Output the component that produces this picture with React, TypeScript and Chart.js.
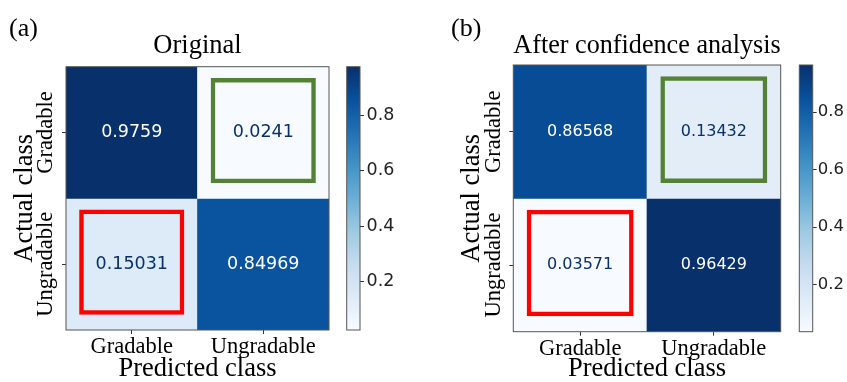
import React, { useEffect, useRef } from 'react';
import { Chart, registerables } from 'chart.js';

Chart.register(...registerables);

// ---------------- data ----------------
const predictedClasses = ['Gradable', 'Ungradable'];
const actualClasses = ['Gradable', 'Ungradable'];
const originalRowGradable = [0.9759, 0.0241];
const originalRowUngradable = [0.15031, 0.84969];
const afterRowGradable = [0.86568, 0.13432];
const afterRowUngradable = [0.03571, 0.96429];
const colorbarTicks = [0.2, 0.4, 0.6, 0.8];
const panelTags = ['(a)', '(b)'];
const panelTitles = ['Original', 'After confidence analysis'];
const xAxisTitle = 'Predicted class';
const yAxisTitle = 'Actual class';
const greenBoxCell = [0, 1]; // [row, col]
const redBoxCell = [1, 0]; // [row, col]

// ---------------- styles ----------------
const BLUES = ['#f7fbff', '#deebf7', '#c6dbef', '#9ecae1', '#6baed6', '#4292c6', '#2171b5', '#08519c', '#08306b'];
const SERIF = '"Liberation Serif", "Times New Roman", serif';
const SANS = '"DejaVu Sans", sans-serif';
const H = 382;
const BOX_TOP = 0.085;
const BOX_BOTTOM = 0.885;
const BOX_WIDTH = 0.8;
const GREEN = '#548235';
const RED = '#ff0000';
const FRAME = '#555555';
const TAG_PAD_TOP = 13.5;
const TAG_PAD_BOTTOM = -15;

const panelLayouts = [
  {
    canvasLeft: 0, canvasWidth: 340, tagX: 9,
    plotLeft: 66, plotRight: 329, plotTop: 66.7, plotBottom: 330,
    cellFont: 17.5,
    cbCanvasLeft: 336, cbCanvasWidth: 74, cbLeft: 346.7, cbRight: 360, cbFont: 17.5, cbPad: 2.5,
  },
  {
    canvasLeft: 420, canvasWidth: 380, tagX: 451,
    plotLeft: 513.3, plotRight: 780.7, plotTop: 65, plotBottom: 331.7,
    cellFont: 16,
    cbCanvasLeft: 790, cbCanvasWidth: 57, cbLeft: 799.3, cbRight: 812.7, cbFont: 16.5, cbPad: 1,
  },
];

function hexToRgb(h: string) {
  const n = parseInt(h.slice(1), 16);
  return [(n >> 16) & 255, (n >> 8) & 255, n & 255];
}
function blues(t: number) {
  const tt = Math.max(0, Math.min(1, t)) * (BLUES.length - 1);
  const i = Math.min(BLUES.length - 2, Math.floor(tt));
  const f = tt - i;
  const a = hexToRgb(BLUES[i]);
  const b = hexToRgb(BLUES[i + 1]);
  const c = a.map((v, k) => Math.round(v + (b[k] - v) * f));
  return `rgb(${c[0]},${c[1]},${c[2]})`;
}
function measure(text: string, font: string) {
  const c = document.createElement('canvas').getContext('2d')!;
  c.font = font;
  return c.measureText(text).width;
}

const framePlugin = {
  id: 'frame',
  afterDatasetsDraw(chart: any) {
    const a = chart.chartArea;
    const ctx = chart.ctx;
    ctx.save();
    ctx.strokeStyle = FRAME;
    ctx.lineWidth = 1;
    ctx.strokeRect(a.left, a.top, a.right - a.left, a.bottom - a.top);
    ctx.restore();
  },
};

const cellTextPlugin = {
  id: 'cellText',
  afterDatasetsDraw(chart: any) {
    const ctx = chart.ctx;
    chart.data.datasets.forEach((ds: any, di: number) => {
      if (!ds.cellValues) return;
      const meta = chart.getDatasetMeta(di);
      meta.data.forEach((el: any, i: number) => {
        const v = ds.cellValues[i];
        ctx.save();
        ctx.font = `${ds.cellFont}px ${SANS}`;
        ctx.textAlign = 'center';
        ctx.textBaseline = 'middle';
        ctx.fillStyle = v > ds.threshold ? '#ffffff' : '#08306b';
        ctx.fillText(String(v), el.x, (el.y + el.base) / 2);
        ctx.restore();
      });
    });
  },
};

function useChart(ref: any, build: () => any) {
  useEffect(() => {
    const chart = new Chart(ref.current, build());
    return () => chart.destroy();
  }, []);
}

function MatrixPanel({ idx, rows }: { idx: number; rows: number[][] }) {
  const ref = useRef<HTMLCanvasElement>(null);
  const L = panelLayouts[idx];
  useChart(ref, () => {
    const flat = rows.flat();
    const vmin = Math.min(...flat);
    const vmax = Math.max(...flat);
    const tickFont = 22.5;
    const widest = Math.max(...actualClasses.map((s) => measure(s, `${tickFont}px ${SERIF}`)));
    const yPad = 15.5 - widest / 2;
    const yTitleLH = 26.5 * 1.2;
    const yTitlePt = (L.plotLeft - 41) - L.tagX - yTitleLH / 2;
    const tagBoxH = TAG_PAD_TOP + 26 * 1.2 + TAG_PAD_BOTTOM;
    const cellSets = rows.map((vals, r) => ({
      label: actualClasses[r],
      data: vals.map(() => [r, r + 1]),
      cellValues: vals,
      cellFont: L.cellFont,
      threshold: (vmin + vmax) / 2,
      backgroundColor: vals.map((v) => blues((v - vmin) / (vmax - vmin))),
      borderWidth: 0,
      barPercentage: 1,
      categoryPercentage: 1,
      grouped: false,
      order: 2,
    }));
    const boxSets = [
      { cell: greenBoxCell, color: GREEN },
      { cell: redBoxCell, color: RED },
    ].map((b) => ({
      label: 'box',
      data: predictedClasses.map((_, c) => (c === b.cell[1] ? [b.cell[0] + BOX_TOP, b.cell[0] + BOX_BOTTOM] : null)),
      backgroundColor: 'rgba(0,0,0,0)',
      borderColor: b.color,
      borderWidth: 4.5,
      borderSkipped: false,
      barPercentage: BOX_WIDTH,
      categoryPercentage: 1,
      grouped: false,
      order: 1,
    }));
    return {
      type: 'bar',
      data: { labels: predictedClasses, datasets: [...cellSets, ...boxSets] },
      options: {
        animation: false,
        responsive: false,
        maintainAspectRatio: false,
        layout: { padding: { left: L.tagX - L.canvasLeft, right: L.canvasLeft + L.canvasWidth - L.plotRight, top: 0, bottom: 0 } },
        plugins: {
          legend: { display: false },
          tooltip: { enabled: false },
          title: {
            display: true, text: panelTags[idx], align: 'start', fullSize: true,
            font: { family: SERIF, size: 26, weight: 'normal' }, color: '#000',
            padding: { top: TAG_PAD_TOP, bottom: TAG_PAD_BOTTOM },
          },
          subtitle: {
            display: true, text: panelTitles[idx], align: 'center', fullSize: false,
            font: { family: SERIF, size: 26.5, weight: 'normal' }, color: '#000',
            padding: { top: 0, bottom: L.plotTop - tagBoxH - 26.5 * 1.2 },
          },
        },
        scales: {
          x: {
            type: 'category',
            offset: true,
            grid: { display: true, drawOnChartArea: false, offset: false, tickLength: 4, color: '#333' },
            border: { display: false },
            ticks: { font: { family: SERIF, size: tickFont }, color: '#000', padding: -0.5, minRotation: 0, maxRotation: 0, autoSkip: false },
            title: { display: true, text: xAxisTitle, font: { family: SERIF, size: 26.5 }, color: '#000', padding: { top: 0, bottom: -3 } },
            afterFit: (s: any) => { s.height = H - L.plotBottom; },
          },
          y: {
            type: 'linear',
            min: 0,
            max: actualClasses.length,
            reverse: true,
            afterBuildTicks: (s: any) => { s.ticks = actualClasses.map((_, i) => ({ value: i + 0.5 })); },
            grid: { display: true, drawOnChartArea: false, tickLength: 4, color: '#333' },
            border: { display: false },
            ticks: {
              callback: (_v: any, i: number) => actualClasses[i],
              font: { family: SERIF, size: tickFont }, color: '#000',
              minRotation: 90, maxRotation: 90, crossAlign: 'center', padding: yPad, autoSkip: false,
            },
            title: { display: true, text: yAxisTitle, font: { family: SERIF, size: 26.5 }, color: '#000', padding: { top: yTitlePt, bottom: 0 } },
            afterFit: (s: any) => { s.width = L.plotLeft - L.tagX; },
          },
        },
      },
      plugins: [framePlugin, cellTextPlugin],
    };
  });
  return (
    <canvas
      ref={ref}
      width={L.canvasWidth}
      height={H}
      style={{ position: 'absolute', left: L.canvasLeft, top: 0, width: L.canvasWidth, height: H }}
    />
  );
}

function ColorbarPanel({ idx, rows }: { idx: number; rows: number[][] }) {
  const ref = useRef<HTMLCanvasElement>(null);
  const L = panelLayouts[idx];
  useChart(ref, () => {
    const flat = rows.flat();
    const vmin = Math.min(...flat);
    const vmax = Math.max(...flat);
    return {
      type: 'bar',
      data: {
        labels: [''],
        datasets: [
          {
            data: [[vmin, vmax]],
            backgroundColor: (ctx: any) => {
              const a = ctx.chart.chartArea;
              if (!a) return BLUES[4];
              const g = ctx.chart.ctx.createLinearGradient(0, a.bottom, 0, a.top);
              BLUES.forEach((c, i) => g.addColorStop(i / (BLUES.length - 1), c));
              return g;
            },
            borderWidth: 0,
            barPercentage: 1,
            categoryPercentage: 1,
          },
        ],
      },
      options: {
        animation: false,
        responsive: false,
        maintainAspectRatio: false,
        layout: { padding: { left: L.cbLeft - L.cbCanvasLeft, right: 0, top: L.plotTop, bottom: H - L.plotBottom } },
        plugins: { legend: { display: false }, tooltip: { enabled: false } },
        scales: {
          x: { display: false },
          y: {
            position: 'right',
            min: vmin,
            max: vmax,
            afterBuildTicks: (s: any) => { s.ticks = colorbarTicks.map((v) => ({ value: v })); },
            grid: { display: true, drawOnChartArea: false, tickLength: 4, color: '#333' },
            border: { display: false },
            ticks: {
              callback: (v: any) => Number(v).toFixed(1),
              font: { family: SANS, size: L.cbFont }, color: '#222', padding: L.cbPad, autoSkip: false,
            },
            afterFit: (s: any) => { s.width = L.cbCanvasLeft + L.cbCanvasWidth - L.cbRight; },
          },
        },
      },
      plugins: [framePlugin],
    };
  });
  return (
    <canvas
      ref={ref}
      width={L.cbCanvasWidth}
      height={H}
      style={{ position: 'absolute', left: L.cbCanvasLeft, top: 0, width: L.cbCanvasWidth, height: H }}
    />
  );
}

export default function App() {
  const originalRows = [originalRowGradable, originalRowUngradable];
  const afterRows = [afterRowGradable, afterRowUngradable];
  return (
    <div style={{ position: 'absolute', left: 0, top: 0, width: 847, height: H, background: '#fff', overflow: 'hidden' }}>
      <MatrixPanel idx={0} rows={originalRows} />
      <ColorbarPanel idx={0} rows={originalRows} />
      <MatrixPanel idx={1} rows={afterRows} />
      <ColorbarPanel idx={1} rows={afterRows} />
    </div>
  );
}
